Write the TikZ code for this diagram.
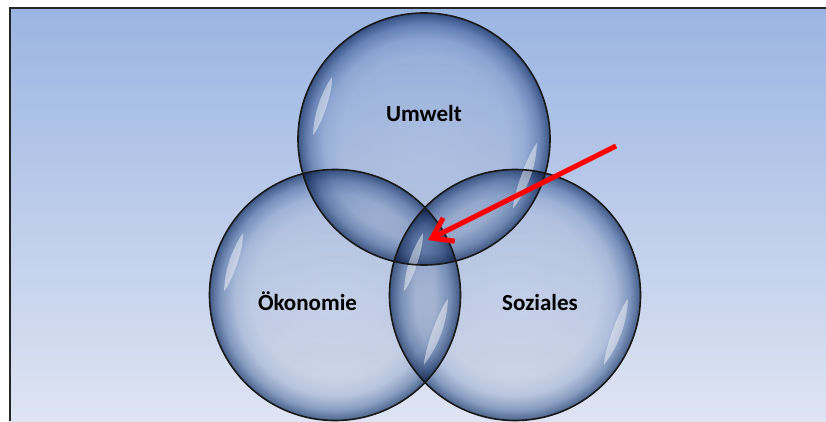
\documentclass[tikz,border=0pt]{standalone}
\usepackage{fontspec}
\setmainfont{Carlito}
\usetikzlibrary{arrows.meta}
\definecolor{bgtop}{RGB}{155,181,226}
\definecolor{bgbot}{RGB}{222,228,243}
\pgfdeclareradialshading{bubble}{\pgfpoint{0bp}{0bp}}{rgb(0bp)=(0.97,0.97,0.975); rgb(16.5bp)=(0.94,0.945,0.955); rgb(20bp)=(0.85,0.88,0.92); rgb(22.8bp)=(0.63,0.70,0.80); rgb(24.4bp)=(0.42,0.51,0.64); rgb(25bp)=(0.34,0.43,0.57); rgb(50bp)=(0.34,0.43,0.57)}
\tikzset{
  bubblefill/.style={shading=bubble, blend mode=multiply},
  rim/.style={draw=black!90, line width=1.6pt},
  glint/.style={fill=white, opacity=0.45},
  lbl/.style={font=\fontsize{23}{28}\selectfont\bfseries, text=black, anchor=base, inner sep=0pt},
  redarrow/.style={draw=red, line width=5pt, -{Straight Barb[length=19pt,width=26pt]}},
}
\begin{document}
\begin{tikzpicture}[x=1pt,y=1pt]
\useasboundingbox (0,0) rectangle (826,421);
\fill[white] (0,0) rectangle (826,421);
\shade[top color=bgtop, bottom color=bgbot] (9.5,0) rectangle (826,412.5);
\draw[line width=2pt, black!85] (9.5,0) -- (9.5,412.5) -- (826,412.5);
\coordinate (U) at (424,282);
\coordinate (O) at (335,126);
\coordinate (S) at (515,126);
% bubbles
\shade[bubblefill] (U) circle[radius=126];
\shade[bubblefill] (O) circle[radius=125.5];
\shade[bubblefill] (S) circle[radius=125.5];
% glints
\foreach \c in {U,O,S}{
  \begin{scope}[shift={(\c)}]
    \fill[glint] (146:111) arc[start angle=146, end angle=178, radius=111] .. controls (172:103) and (152:103) .. cycle;
    \fill[glint] (-38:113) arc[start angle=-38, end angle=-2, radius=113] .. controls (-8:105) and (-32:105) .. cycle;
  \end{scope}
}
% rims
\draw[rim] (U) circle[radius=126];
\draw[rim] (O) circle[radius=125.5];
\draw[rim] (S) circle[radius=125.5];
% labels
\node[lbl] (tU) at (424,299) {Umwelt};
\node[lbl] (tO) at (307.5,111) {Ökonomie};
\node[lbl] (tS) at (540,111) {Soziales};
% arrow
\coordinate (AS) at (616,275);
\coordinate (AT) at (428,181);
\draw[redarrow] (AS) -- (AT);
\end{tikzpicture}
\end{document}
